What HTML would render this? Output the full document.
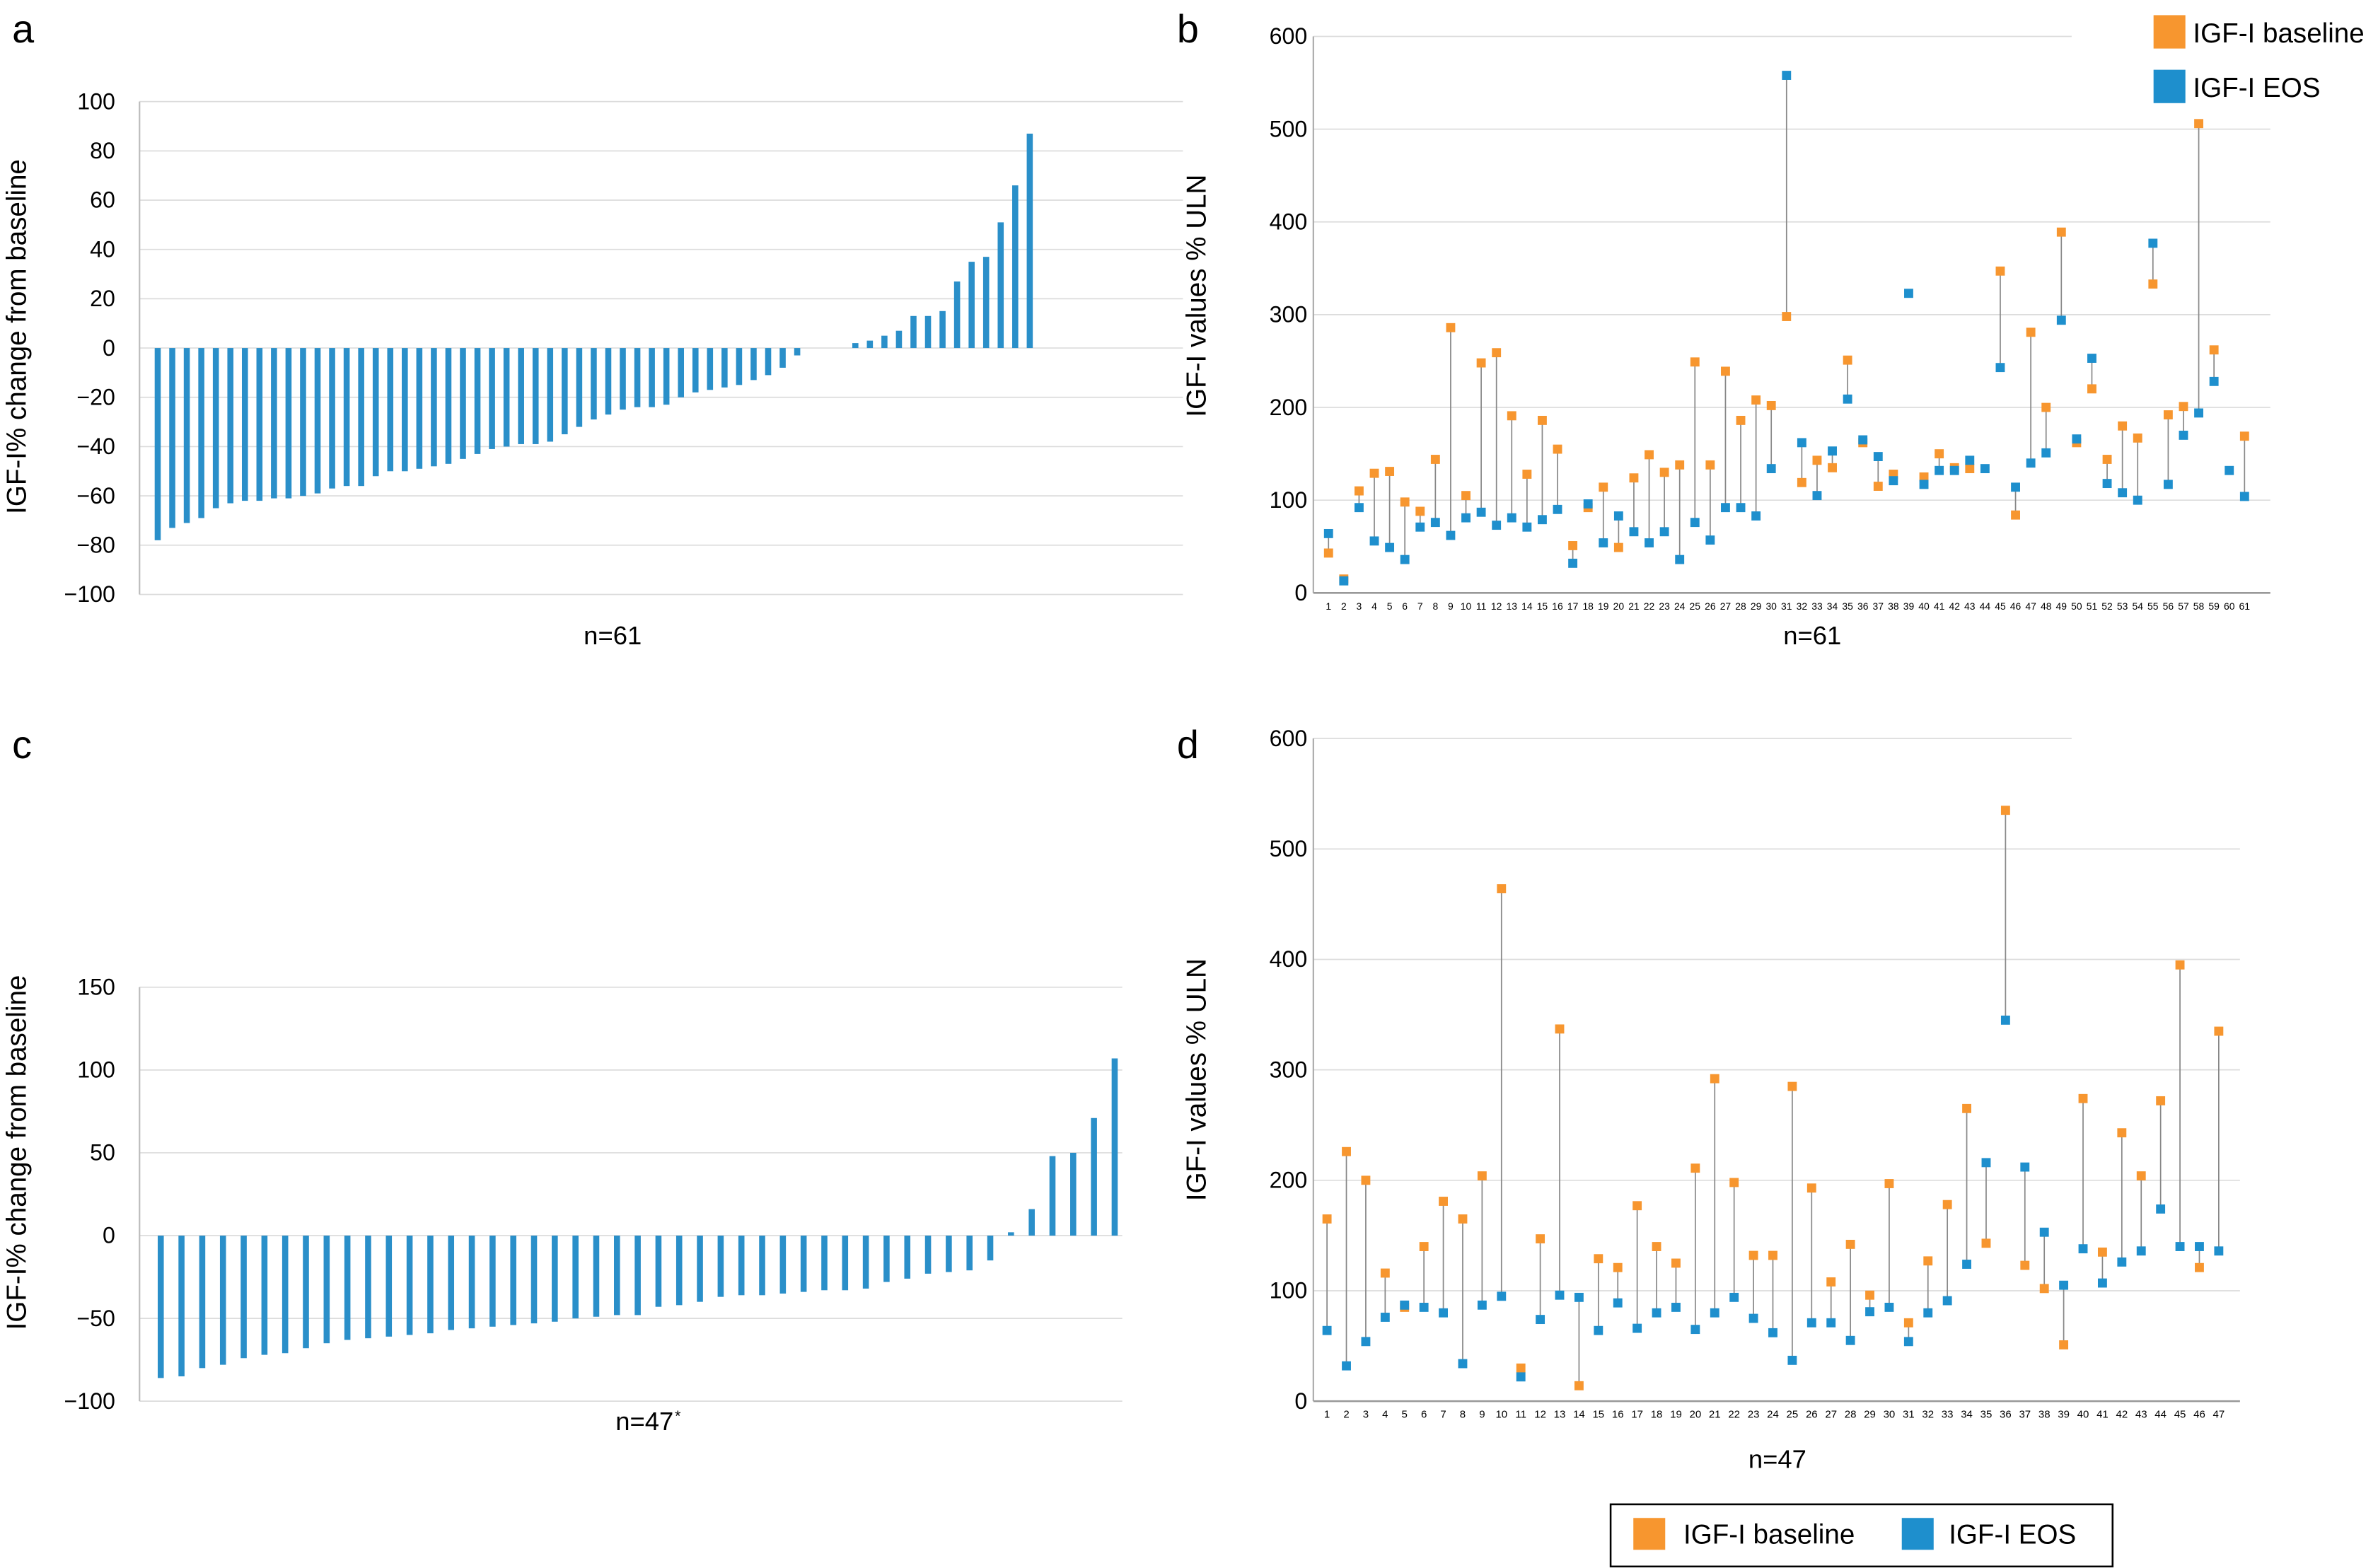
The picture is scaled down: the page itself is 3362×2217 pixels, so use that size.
<!DOCTYPE html>
<html><head><meta charset="utf-8">
<style>
html,body{margin:0;padding:0;background:#fff;}
svg{display:block;font-family:"Liberation Sans",Arial,sans-serif;}
</style></head>
<body>
<svg id="fig" width="3362" height="2217" viewBox="0 0 1568 1034" preserveAspectRatio="none" xmlns="http://www.w3.org/2000/svg">
  <text x="8" y="28" font-size="26">a</text>
  <text x="776" y="28" font-size="26">b</text>
  <text x="8" y="500" font-size="26">c</text>
  <text x="776" y="500" font-size="26">d</text>
  <g id="pa"></g>
  <g id="pb"></g>
  <g id="pc"></g>
  <g id="pd"></g>
  <g>
    <rect x="1420" y="10" width="21" height="22" fill="#f7962f"/>
    <text x="1446" y="28" font-size="18">IGF-I baseline</text>
    <rect x="1420" y="46" width="21" height="22" fill="#1e8fcd"/>
    <text x="1446" y="64" font-size="18">IGF-I EOS</text>
  </g>
  <g>
    <rect x="1062" y="992" width="331" height="41" fill="none" stroke="#000" stroke-width="1.2"/>
    <rect x="1077" y="1001" width="21" height="21" fill="#f7962f"/>
    <text x="1110" y="1018" font-size="18">IGF-I baseline</text>
    <rect x="1254" y="1001" width="21" height="21" fill="#1e8fcd"/>
    <text x="1285" y="1018" font-size="18">IGF-I EOS</text>
  </g>
</svg>
<script>
// Panel a: % change, 61 patients
const aValues = [-78,-73,-71,-69,-65,-63,-62,-62,-61,-61,-60,-59,-57,-56,-56,-52,-50,-50,-49,-48,-47,-45,-43,-41,-40,-39,-39,-38,-35,-32,-29,-27,-25,-24,-24,-23,-20,-18,-17,-16,-15,-13,-11,-8,-3,0,0,0,2,3,5,7,13,13,15,27,35,37,51,66,87];
const aTicks = [100,80,60,40,20,0,-20,-40,-60,-80,-100];
// Panel c: % change, 47 patients
const cValues = [-86,-85,-80,-78,-74,-72,-71,-68,-65,-63,-62,-61,-60,-59,-57,-56,-55,-54,-53,-52,-50,-49,-48,-48,-43,-42,-40,-37,-36,-36,-35,-34,-33,-33,-32,-28,-26,-23,-22,-21,-15,2,16,48,50,71,107];
const cTicks = [150,100,50,0,-50,-100];
// Panel b: IGF-I % ULN, 61 patients
const bBaseline = [43,15,110,129,131,98,88,144,286,105,248,259,191,128,186,155,51,92,114,49,124,149,130,138,249,138,239,186,208,202,298,119,143,135,251,162,115,128,null,125,150,135,134,null,347,84,281,200,389,162,220,144,180,167,333,192,201,506,262,null,169];
const bEOS = [64,13,92,56,49,36,71,76,62,81,87,73,81,71,79,90,32,96,54,83,66,54,66,36,76,57,92,92,83,134,558,162,105,153,209,165,147,121,323,117,132,132,143,134,243,114,140,151,294,166,253,118,108,100,377,117,170,194,228,132,104];
// Panel d: IGF-I % ULN, 47 patients
const dBaseline = [165,226,200,116,85,140,181,165,204,464,30,147,337,14,129,121,177,140,125,211,292,198,132,132,285,193,108,142,96,197,71,127,178,265,143,535,123,102,51,274,135,243,204,272,395,121,335];
const dEOS = [64,32,54,76,87,85,80,34,87,95,22,74,96,94,64,89,66,80,85,65,80,94,75,62,37,71,71,55,81,85,54,80,91,124,216,345,212,153,105,138,107,126,136,174,140,140,136];
const ulnTicks = [0,100,200,300,400,500,600];

const NS = "http://www.w3.org/2000/svg";
function mk(parent, tag, attrs, txt){
  const e = document.createElementNS(NS, tag);
  for (const k in attrs) e.setAttribute(k, attrs[k]);
  if (txt !== undefined) e.textContent = txt;
  parent.appendChild(e);
  return e;
}

function barPanel(g, values, ticks, cfg){
  const yScale = v => cfg.y0 - (v - cfg.min) / (cfg.max - cfg.min) * (cfg.y0 - cfg.y1);
  const xScale = i => cfg.x0 + i * (cfg.x1 - cfg.x0) / (values.length - 1);
  ticks.forEach(t => {
    const y = yScale(t);
    const gl = mk(g, 'line', {x1: cfg.ax, x2: cfg.gx, y1: y, y2: y, stroke: '#dcdcdc', 'stroke-width': 0.8});
    
    
    const tl = mk(g, 'text', {x: cfg.ax - 16, y: y + 5, 'font-size': 15, 'text-anchor': 'end'}, t < 0 ? '\u2212' + (-t) : String(t));
    
    
  });
  const ax = mk(g, 'line', {x1: cfg.ax, x2: cfg.ax, y1: yScale(ticks[0]), y2: yScale(ticks[ticks.length-1]), stroke: '#bbb', 'stroke-width': 1});
  
  
  values.forEach((v, i) => {
    const x = xScale(i), y0 = yScale(0), y = yScale(v);
    const r = mk(g, 'rect', {x: x - 2, y: Math.min(y, y0), width: 4, height: Math.max(Math.abs(y - y0), 0.001), fill: '#2a8fc9'});
    
    
  });
  const tt = mk(g, 'text', {x: 0, y: 0, 'font-size': 18, 'text-anchor': 'middle', transform: 'translate(' + cfg.titleX + ',' + cfg.titleY + ') rotate(-90)'}, 'IGF-I% change from baseline');
  
  
  const nl = mk(g, 'text', {x: cfg.nx, y: cfg.ny, 'font-size': 17, 'text-anchor': 'middle'}, cfg.nText);
  
  
  if (cfg.star) {
    const st = mk(g, 'text', {x: cfg.nx + 20, y: cfg.ny - 6, 'font-size': 10}, '*');
    
    
  }
}

function dumbbellPanel(g, base, eos, cfg){
  const yScale = v => cfg.y0 - v / 600 * (cfg.y0 - cfg.y1);
  const xScale = i => cfg.x0 + i * (cfg.x1 - cfg.x0) / (base.length - 1);
  ulnTicks.forEach(t => {
    const y = yScale(t);
    if (t > 0) {
      const gl = mk(g, 'line', {x1: cfg.ax, x2: t === 600 ? cfg.gx600 : cfg.gx, y1: y, y2: y, stroke: '#dcdcdc', 'stroke-width': 0.8});
      
      
    }
    const tl = mk(g, 'text', {x: cfg.ax - 4, y: y + 5, 'font-size': 15, 'text-anchor': 'end'}, String(t));
    
    
  });
  const ay = mk(g, 'line', {x1: cfg.ax, x2: cfg.ax, y1: yScale(600), y2: yScale(0), stroke: '#aaa', 'stroke-width': 1});
  
  
  const axx = mk(g, 'line', {x1: cfg.ax, x2: cfg.gx, y1: yScale(0), y2: yScale(0), stroke: '#999', 'stroke-width': 1.2});
  
  
  base.forEach((b, i) => {
    const x = xScale(i), e = eos[i];
    if (b !== null && e !== null) {
      const ln = mk(g, 'line', {x1: x, x2: x, y1: yScale(b), y2: yScale(e), stroke: '#888', 'stroke-width': 0.8});
      
      
    }
    if (b !== null) {
      const m = mk(g, 'rect', {x: x - 3, y: yScale(b) - 3, width: 6, height: 6, fill: '#f7962f'});
      
      
    }
    if (e !== null) {
      const m2 = mk(g, 'rect', {x: x - 3, y: yScale(e) - 3, width: 6, height: 6, fill: '#1e8fcd'});
      
      
    }
    const xl = mk(g, 'text', {x: x, y: yScale(0) + 11, 'font-size': cfg.xfs, 'text-anchor': 'middle'}, String(i + 1));
    
    
  });
  const tt = mk(g, 'text', {x: 0, y: 0, 'font-size': 18, 'text-anchor': 'middle', transform: 'translate(' + cfg.titleX + ',' + cfg.titleY + ') rotate(-90)'}, 'IGF-I  values % ULN');
  
  
  const nl = mk(g, 'text', {x: cfg.nx, y: cfg.ny, 'font-size': 17, 'text-anchor': 'middle'}, cfg.nText);
  
  
}

barPanel(document.getElementById('pa'), aValues, aTicks,
  {min:-100, max:100, y0:392, y1:67, ax:92, gx:780, x0:104, x1:679, titleX:17, titleY:222, nx:404, ny:425, nText:'n=61'});
barPanel(document.getElementById('pc'), cValues, cTicks,
  {min:-100, max:150, y0:924, y1:651, ax:92, gx:740, x0:106, x1:735, titleX:17, titleY:760, nx:425, ny:943, nText:'n=47', star:true});
dumbbellPanel(document.getElementById('pb'), bBaseline, bEOS,
  {y0:391, y1:24, ax:866, gx:1497, gx600:1366, x0:876, x1:1480, xfs:6.5, titleX:795, titleY:195, nx:1195, ny:425, nText:'n=61'});
dumbbellPanel(document.getElementById('pd'), dBaseline, dEOS,
  {y0:924, y1:487, ax:866, gx:1477, gx600:1366, x0:875, x1:1463, xfs:7, titleX:795, titleY:712, nx:1172, ny:968, nText:'n=47'});
</script>
</body></html>
